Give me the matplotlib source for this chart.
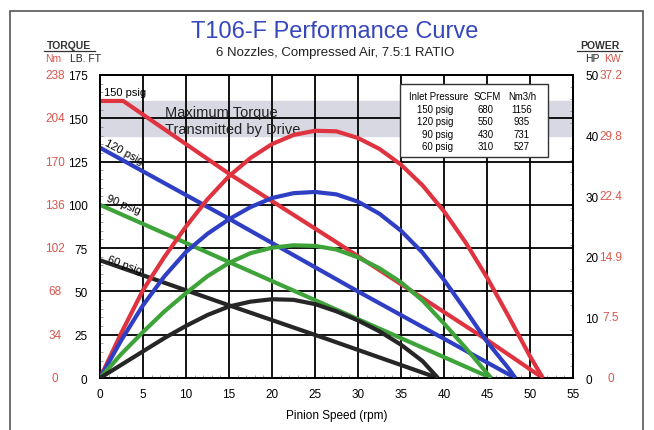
import matplotlib
matplotlib.use("Agg")
import matplotlib.pyplot as plt
from matplotlib.patches import Rectangle

plt.rcParams['font.family'] = ['Liberation Sans', 'DejaVu Sans']

# torque lines (lb-ft) vs pinion speed (rpm)
rpm_t150 = [0, 2.7, 15, 27, 45, 51.5]
tq_150 = [160, 160, 118, 80, 22, 0]
rpm_t120 = [0, 15, 30, 48.3]
tq_120 = [133, 92, 50, 0]
rpm_t90 = [0, 15, 30, 45.5]
tq_90 = [100, 67, 34, 0]
rpm_t60 = [0, 15, 26.7, 39.3]
tq_60 = [68, 42, 22, 0]

# power curves (HP)
rpm_p150 = [0, 2.5, 5, 7.5, 10, 12.5, 15, 17.5, 20, 22.5, 25, 27.5, 30, 32.5, 35, 37.5, 40, 42.5, 45, 47.5, 50, 51.5]
hp_150 = [0, 7.5, 14.5, 20, 25, 29.5, 33.3, 36.3, 38.6, 40.1, 40.8, 40.7, 39.6, 37.8, 35.2, 31.8, 27.5, 22.4, 16.6, 10.2, 3.6, 0]
rpm_p120 = [0, 2.5, 5, 7.5, 10, 12.5, 15, 17.5, 20, 22.5, 25, 27.5, 30, 32.5, 35, 37.5, 40, 42.5, 45, 47.5, 48.3]
hp_120 = [0, 6.3, 12, 16.8, 20.8, 23.8, 26.2, 28.2, 29.7, 30.5, 30.7, 30.3, 29.1, 27.1, 24.3, 20.7, 16.2, 11.2, 6.0, 1.6, 0]
rpm_p90 = [0, 2.5, 5, 7.5, 10, 12.5, 15, 17.5, 20, 22.5, 25, 27.5, 30, 32.5, 35, 37.5, 40, 42.5, 45, 45.5]
hp_90 = [0, 4.0, 7.6, 11, 14, 16.8, 19, 20.6, 21.5, 21.9, 21.8, 21.2, 19.9, 18.1, 15.8, 12.8, 9.0, 5.0, 0.8, 0]
rpm_p60 = [0, 2.5, 5, 7.5, 10, 12.5, 15, 17.5, 20, 22.5, 25, 27.5, 30, 32.5, 35, 37.5, 39.3]
hp_60 = [0, 2.2, 4.4, 6.6, 8.6, 10.4, 11.8, 12.6, 13.0, 12.9, 12.2, 11.0, 9.5, 7.7, 5.5, 2.8, 0]

lbft_ticks = [0, 25, 50, 75, 100, 125, 150, 175]
nm_labels = ['0', '34', '68', '102', '136', '170', '204', '238']
hp_ticks = [0, 10, 20, 30, 40, 50]
kw_labels = ['0', '7.5', '14.9', '22.4', '29.8', '37.2']

table_rows = [
    ('150 psig', '680', '1156'),
    ('120 psig', '550', '935'),
    ('90 psig', '430', '731'),
    ('60 psig', '310', '527'),
]

RED = '#e03340'
BLUE = '#2f3fc4'
GREEN = '#3ea339'
BLACK = '#262626'
LRED = '#d9574c'

fig = plt.figure(figsize=(6.54, 4.31), dpi=100)
fig.patches.append(Rectangle((0.016, -0.01), 0.967, 0.983, transform=fig.transFigure,
                             fill=False, edgecolor='#555555', linewidth=1.2))

ax = fig.add_axes([0.1529, 0.1206, 0.7232, 0.7031])
ax.set_xlim(0, 55)
ax.set_ylim(0, 175)
ax.set_xticks(range(0, 56, 5))
ax.set_yticks(lbft_ticks)
ax.set_xticks(range(0, 56, 1), minor=True)
ax.set_yticks(range(0, 176, 5), minor=True)
ax.grid(True, which='major', color='black', linewidth=1.3)
ax.set_axisbelow(True)
for s in ax.spines.values():
    s.set_linewidth(1.4)
ax.tick_params(which='major', length=0, labelsize=8.5, pad=9)
ax.tick_params(axis='x', pad=7)
ax.tick_params(which='minor', direction='in', length=2.5, width=0.5, color='#777777',
               top=False, right=False)

# shaded max torque band
ax.axhspan(140, 160, color='#d8d8e2', zorder=0)
ax.text(7.6, 148.7, 'Maximum Torque\nTransmitted by Drive', ha='left', va='center',
        fontsize=10.5, color='#222222', linespacing=1.25, zorder=1)

kw = dict(lw=3, solid_capstyle='butt', solid_joinstyle='round', zorder=3)
ax.plot(rpm_t150, tq_150, color=RED, **kw)
ax.plot(rpm_t120, tq_120, color=BLUE, **kw)
ax.plot(rpm_t90, tq_90, color=GREEN, **kw)
ax.plot(rpm_t60, tq_60, color=BLACK, **kw)

ax.text(0.5, 165, '150 psig', fontsize=8, ha='left', va='center')
ax.text(0.4, 131, '120 psig', fontsize=8, ha='left', va='center', rotation=-28)
ax.text(0.6, 100.5, '90 psig', fontsize=8, ha='left', va='center', rotation=-22)
ax.text(0.7, 65.5, '60 psig', fontsize=8, ha='left', va='center', rotation=-20)

ax.set_xlabel('Pinion Speed (rpm)', fontsize=8.5, labelpad=7)

# Nm labels
for v, lab in zip(lbft_ticks, nm_labels):
    ax.text(-0.095, v, lab, transform=ax.get_yaxis_transform(), ha='center', va='center',
            fontsize=8.5, color=LRED)

ax2 = ax.twinx()
ax2.set_ylim(0, 50)
ax2.set_yticks(hp_ticks)
ax2.set_yticks(range(0, 51, 2), minor=True)
ax2.tick_params(which='major', length=0, labelsize=8.5, pad=9)
ax2.tick_params(which='minor', direction='in', length=2.5, width=0.5, color='#777777')
for s in ax2.spines.values():
    s.set_linewidth(1.4)

kw2 = dict(lw=3, solid_capstyle='butt', solid_joinstyle='round', zorder=3)
ax2.plot(rpm_p150, hp_150, color=RED, **kw2)
ax2.plot(rpm_p120, hp_120, color=BLUE, **kw2)
ax2.plot(rpm_p90, hp_90, color=GREEN, **kw2)
ax2.plot(rpm_p60, hp_60, color=BLACK, **kw2)

for v, lab in zip(hp_ticks, kw_labels):
    ax2.text(1.08, v, lab, transform=ax2.get_yaxis_transform(), ha='center', va='center',
             fontsize=8.5, color=LRED)

# inlet table
ax2.add_patch(Rectangle((0.634, 0.729), 0.313, 0.241, transform=ax2.transAxes,
                        facecolor='white', edgecolor='#333333', linewidth=1.0, zorder=5))
tfs = 6.9
ty = 0.932
ax2.text(0.715, ty, 'Inlet Pressure', transform=ax2.transAxes, fontsize=tfs,
         ha='center', va='center', zorder=6)
ax2.text(0.818, ty, 'SCFM', transform=ax2.transAxes, fontsize=tfs, ha='center', va='center', zorder=6)
ax2.text(0.892, ty, 'Nm3/h', transform=ax2.transAxes, fontsize=tfs, ha='center', va='center', zorder=6)
for i, (p, scfm, nm3) in enumerate(table_rows):
    y = 0.888 - 0.041 * i
    ax2.text(0.747, y, p, transform=ax2.transAxes, fontsize=tfs, ha='right', va='center', zorder=6)
    ax2.text(0.815, y, scfm, transform=ax2.transAxes, fontsize=tfs, ha='center', va='center', zorder=6)
    ax2.text(0.892, y, nm3, transform=ax2.transAxes, fontsize=tfs, ha='center', va='center', zorder=6)

# titles and axis headers
fig.text(0.512, 0.925, 'T106-F Performance Curve', ha='center', va='center',
         fontsize=17, color='#3646bb')
fig.text(0.512, 0.877, '6 Nozzles, Compressed Air, 7.5:1 RATIO', ha='center', va='center',
         fontsize=9.5, color='#222222')

fig.text(0.106, 0.893, 'TORQUE', ha='center', va='center', fontsize=7.5,
         fontweight='bold', color='#333333')
fig.add_artist(plt.Line2D([0.068, 0.145], [0.879, 0.879], color='#333333', lw=0.9))
fig.text(0.081, 0.862, 'Nm', ha='center', va='center', fontsize=7.5, color=LRED)
fig.text(0.131, 0.862, 'LB. FT', ha='center', va='center', fontsize=7.5, color='#222222')

fig.text(0.917, 0.893, 'POWER', ha='center', va='center', fontsize=7.5,
         fontweight='bold', color='#333333')
fig.add_artist(plt.Line2D([0.883, 0.951], [0.879, 0.879], color='#333333', lw=0.9))
fig.text(0.905, 0.862, 'HP', ha='center', va='center', fontsize=7.5, color='#222222')
fig.text(0.937, 0.862, 'KW', ha='center', va='center', fontsize=7.5, color=LRED)

fig.savefig('out.png', dpi=100)
